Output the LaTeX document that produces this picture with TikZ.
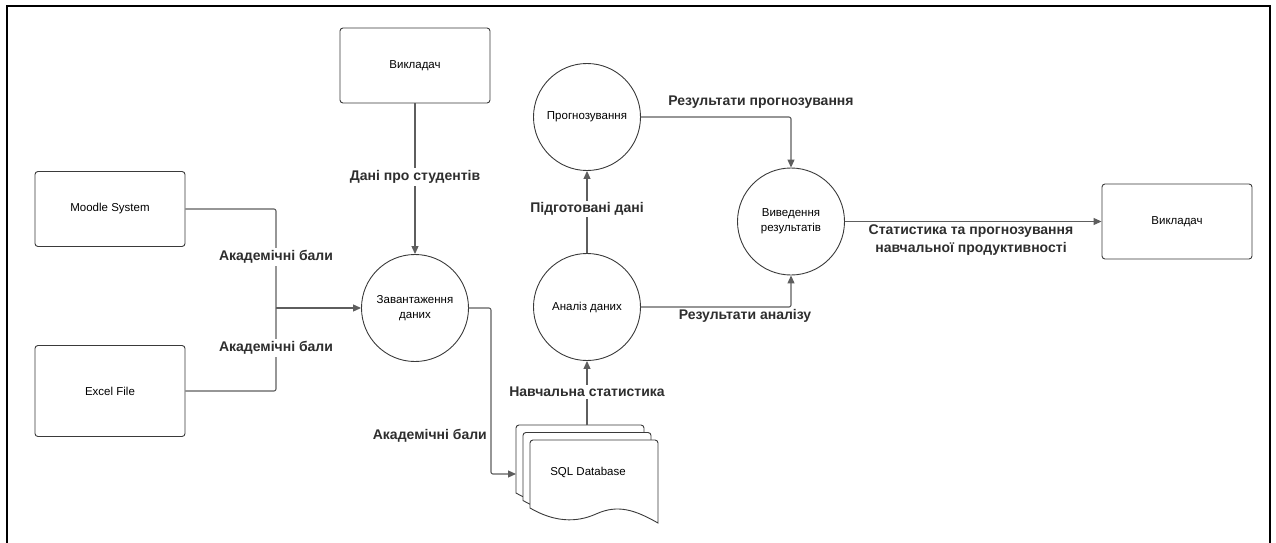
\documentclass[tikz,border=0pt]{standalone}
\usepackage{fontspec}
\setmainfont{Liberation Sans}
\usetikzlibrary{arrows.meta}

\definecolor{linegray}{HTML}{5E5E5E}
\definecolor{boxgray}{HTML}{3A3A3A}
\definecolor{txtgray}{HTML}{2E2E2E}

\begin{document}
\begin{tikzpicture}[x=1pt,y=-1pt,
  extent/.style={draw=boxgray,line width=0.9pt,rounded corners=3pt,minimum width=150pt,minimum height=75pt,font=\fontsize{11.5}{14}\selectfont},
  proc/.style={draw=boxgray,line width=0.9pt,circle,minimum size=107pt,align=center,font=\fontsize{11.5}{15}\selectfont},
  flow/.style={draw=linegray,line width=1.1pt,-{Triangle[length=8pt,width=7pt]},rounded corners=2pt},
  lbl/.style={font=\fontsize{14}{17.5}\selectfont\bfseries,text=txtgray,inner sep=2pt}]
\useasboundingbox (0,0) rectangle (1276,543);
% outer frame, open at the bottom
\draw[line width=2.5pt] (7,560) -- (7,6) -- (1270,6) -- (1270,560);

\node[extent] (teacher) at (415,65.5) {Викладач};
\node[extent] (moodle) at (110,209) {Moodle System};
\node[extent,minimum height=91pt] (excel) at (110,391) {Excel File};
\node[extent] (report) at (1177,221.5) {Викладач};
\node[proc] (load) at (415,308) {Завантаження\\даних};
\node[proc] (forecast) at (587,117) {Прогнозування};
\node[proc] (analysis) at (587,307) {Аналіз даних};
\node[proc] (output) at (791,221.5) {Виведення\\результатів};

% stacked documents
\foreach \dx/\dy in {0/0,7/7.5,14/15}{
  \begin{scope}[shift={(516+\dx,425+\dy)}]
    \draw[boxgray,line width=0.9pt,fill=white] (0,68) [rounded corners=3pt] -- (0,0) -- (128,0) [sharp corners] -- (128,83)
      .. controls (105,70) and (88,64) .. (66,74) .. controls (46,83) and (24,82) .. (0,68) -- cycle;
  \end{scope}
}
\node[font=\fontsize{11.5}{14}\selectfont] (sql) at (588,472) {SQL Database};
\coordinate (sqlin) at (516,474);
\coordinate (sqltop) at (587,425);
\coordinate (join) at (276,308);

\draw[flow,-] (moodle.east) -| (join);
\draw[flow,-] (excel.east) -| (join);
\draw[flow] (join) -- (load);
\draw[flow] (teacher) -- (load);
\draw[flow] (load.east) -- ++(22,0) |- (sqlin);
\draw[flow] (sqltop) -- (analysis);
\draw[flow] (analysis) -- (forecast);
\draw[flow] (forecast.east) -| (output);
\draw[flow] (analysis.east) -| (output);
\draw[flow] (output) -- (report);

\node[lbl,fill=white] (marks1) at (276,257) {Академічні бали};
\node[lbl,fill=white] (marks2) at (276,348) {Академічні бали};
\node[lbl,fill=white] (students) at (415,177) {Дані про студентів};
\node[lbl,anchor=east] (marks3) at (489,436) {Академічні бали};
\node[lbl,fill=white] (stats) at (587,392) {Навчальна статистика};
\node[lbl,fill=white] (prepared) at (587,209) {Підготовані дані};
\node[lbl] (fres) at (761,102) {Результати прогнозування};
\node[lbl] (ares) at (745,316) {Результати аналізу};
\node[lbl,align=center] (summary) at (971,240) {Статистика та прогнозування\\навчальної продуктивності};
\end{tikzpicture}
\end{document}
